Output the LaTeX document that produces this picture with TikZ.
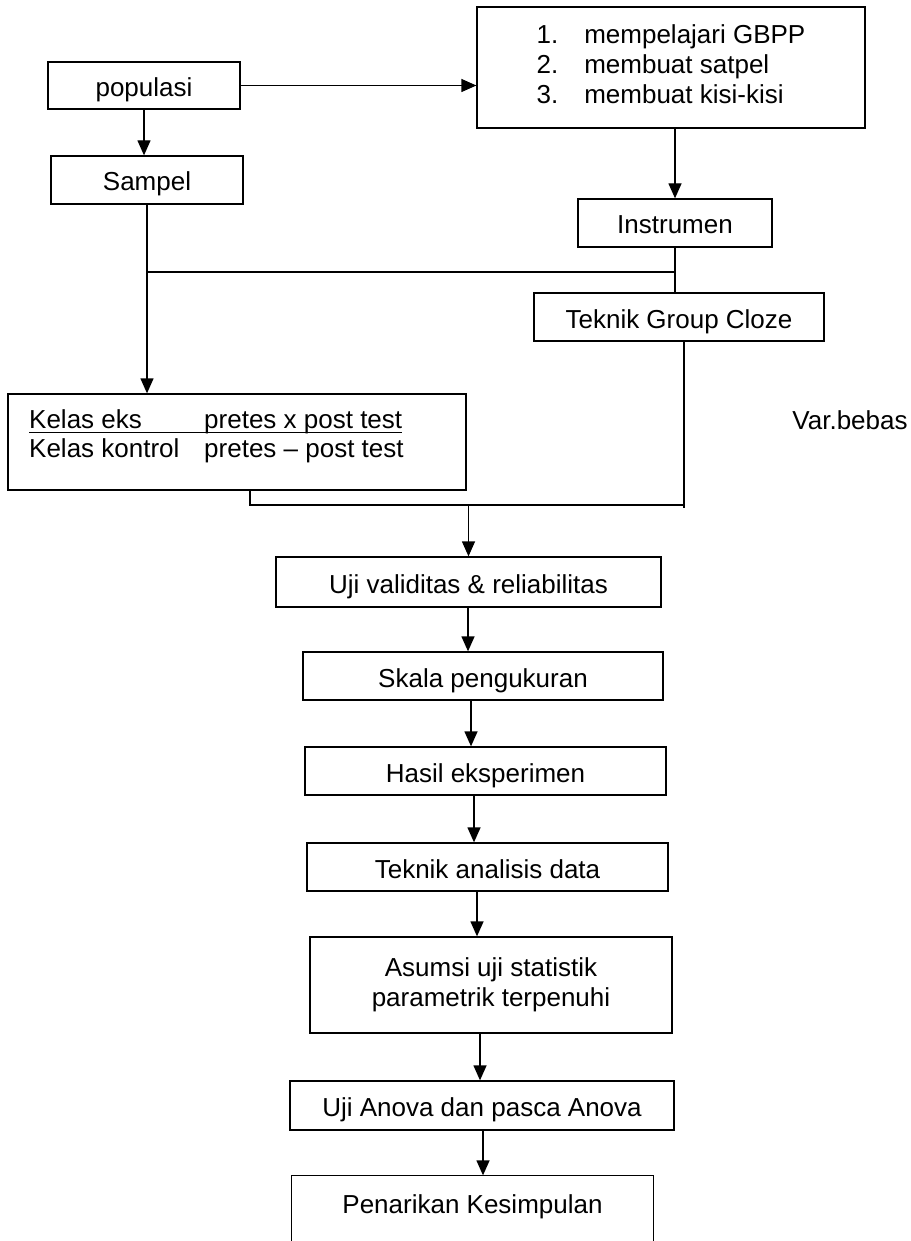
\documentclass[tikz,border=0pt]{standalone}
\usepackage{fontspec}
\setmainfont{Liberation Sans}
\usetikzlibrary{arrows.meta}

\tikzset{
  box/.style={draw, line width=1.3pt, rectangle, inner sep=0pt, font=\fontsize{26}{30}\selectfont},
  lbl/.style={box, text height=22pt, text depth=0pt},
  txt/.style={inner sep=0pt, font=\fontsize{26}{30}\selectfont},
  arr/.style={line width=1.3pt, -{Triangle[width=13pt,length=15pt]}},
  ln/.style={line width=1.3pt}
}

\begin{document}
\begin{tikzpicture}[x=1pt,y=-1pt]
\useasboundingbox (0,0) rectangle (910,1241);

\node[lbl, minimum width=192pt, minimum height=47pt] (pop) at (144,85.5) {populasi};
\node[lbl, minimum width=192pt, minimum height=48pt] (samp) at (147,180) {Sampel};
\node[box, minimum width=388pt, minimum height=121pt] (lang) at (671,67.5)
  {\begin{tabular}{@{}l@{\hspace{26pt}}l@{}}1. & mempelajari GBPP\\ 2. & membuat satpel\\ 3. & membuat kisi-kisi\end{tabular}\hspace{24pt}};
\node[lbl, minimum width=194pt, minimum height=48pt] (instr) at (675,223) {Instrumen};
\node[lbl, minimum width=290pt, minimum height=48pt] (cloze) at (679,317) {Teknik Group Cloze};

\node[box, minimum width=458pt, minimum height=96pt] (kelas) at (237,442) {};
\node[txt, anchor=base west] (keks) at (29,428) {Kelas eks};
\node[txt, anchor=base west] (peks) at (204,428) {pretes x post test};
\node[txt, anchor=base west] (kkon) at (29,457) {Kelas kontrol};
\node[txt, anchor=base west] (pkon) at (204,457) {pretes – post test};
\draw[line width=1pt] ([yshift=-4.5pt]keks.base west) -- ([yshift=-4.5pt]peks.base east);
\node[txt] (var) at (850,420) {Var.bebas};

\node[lbl, minimum width=385pt, minimum height=50pt] (uji) at (468.5,582) {Uji validitas \& reliabilitas};
\node[lbl, minimum width=360pt, minimum height=48pt] (skala) at (483,676) {Skala pengukuran};
\node[lbl, minimum width=361pt, minimum height=48pt] (hasil) at (485.5,771) {Hasil eksperimen};
\node[lbl, minimum width=361pt, minimum height=48pt] (tekan) at (487.5,867) {Teknik analisis data};
\node[box, minimum width=362pt, minimum height=96pt, align=center] (asumsi) at (491,985) {Asumsi uji statistik\\ parametrik terpenuhi};
\node[lbl, minimum width=384pt, minimum height=49pt] (anova) at (482,1105.5) {Uji Anova dan pasca Anova};
\node[lbl, draw=none, minimum width=361pt, minimum height=52pt] (tarik) at (472.5,1202) {Penarikan Kesimpulan};
\draw[ln] ([yshift=-16pt]tarik.south west) -- (tarik.north west) -- (tarik.north east) -- ([yshift=-16pt]tarik.south east);

% top part
\draw[arr] (pop.east) -- (pop.east -| lang.west);
\draw[arr] (pop.south) -- (pop.south |- samp.north);
\draw[arr] (instr.north |- lang.south) -- (instr.north);
\coordinate (jl) at (samp.south |- 0,272);
\coordinate (jr) at (instr.south |- 0,272);
\draw[arr] (samp.south) -- (samp.south |- kelas.north);
\draw[ln] (jl) -- (jr);
\draw[ln] (instr.south) -- (instr.south |- cloze.north);

% joining
\coordinate (jm) at (uji.north |- 0,505);
\coordinate (jc) at ([xshift=5pt]cloze.south);
\draw[ln] ([xshift=13pt]kelas.south) |- (jc |- jm);
\draw[ln] (jc) -- ([yshift=-3pt]jc |- jm);
\draw[arr] (jm) -- (uji.north);

% main column
\draw[arr] (468,0 |- uji.south) -- (468,0 |- skala.north);
\draw[arr] (471,0 |- skala.south) -- (471,0 |- hasil.north);
\draw[arr] (474,0 |- hasil.south) -- (474,0 |- tekan.north);
\draw[arr] (477,0 |- tekan.south) -- (477,0 |- asumsi.north);
\draw[arr] (480,0 |- asumsi.south) -- (480,0 |- anova.north);
\draw[arr] (483,0 |- anova.south) -- (483,0 |- tarik.north);
\end{tikzpicture}
\end{document}
